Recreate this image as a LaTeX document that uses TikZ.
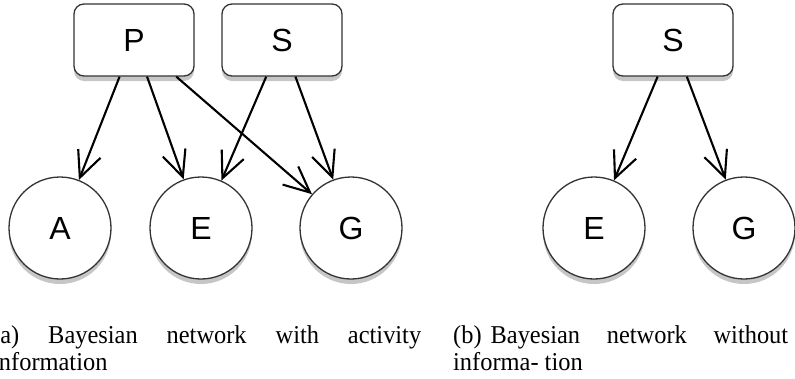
\documentclass[tikz,border=0pt]{standalone}
\usepackage{fontspec}
\setmainfont{Liberation Serif}[FakeStretch=0.95]
\newfontfamily\nodefont{Liberation Sans}
\usepackage{tikz}
\usetikzlibrary{arrows.meta,shadows}
\definecolor{NetInk}{HTML}{333333}

\begin{document}
\begin{tikzpicture}[x=1pt, y=-1pt,
    var/.style={draw=NetInk, line width=1.3pt, fill=white,
      drop shadow={shadow xshift=0pt, shadow yshift=-5pt, opacity=0.45},
      font=\nodefont\fontsize{32}{32}\selectfont},
    parent/.style={var, rounded corners=10pt, minimum width=120pt, minimum height=72pt},
    child/.style={var, circle, minimum size=102pt, inner sep=0pt},
    dep/.style={-{Straight Barb[length=26pt, width=24pt]}, line width=2.1pt},
    caption/.style={inner sep=0pt, anchor=base west, align=left,
      font=\fontsize{25.7}{27}\selectfont}]
  \useasboundingbox (0,0) rectangle (795,378);
  % (a) with activity information
  \node[parent] (P) at (134,40) {P};
  \node[parent] (S) at (282,40) {S};
  \node[child] (A) at (60,228) {A};
  \node[child] (E) at (201,228) {E};
  \node[child] (G) at (351,228) {G};
  \draw[dep] (P) -- (A);
  \draw[dep] (P) -- (E);
  \draw[dep] (P) -- (G);
  \draw[dep] (S) -- (E);
  \draw[dep] (S) -- (G);
  % (b) without activity information
  \node[parent] (S2) at (673,40) {S};
  \node[child] (E2) at (594,228) {E};
  \node[child] (G2) at (744,228) {G};
  \draw[dep] (S2) -- (E2);
  \draw[dep] (S2) -- (G2);
  % captions (base anchor sits on the last line)
  \node[caption] (capa) at (-8,370)
    {\makebox[429pt][s]{(a) Bayesian network with activity}\\information};
  \node[caption] (capb) at (453,370)
    {\makebox[335pt][s]{(b)\hspace{9pt}Bayesian network without}\\informa- tion};
\end{tikzpicture}
\end{document}
